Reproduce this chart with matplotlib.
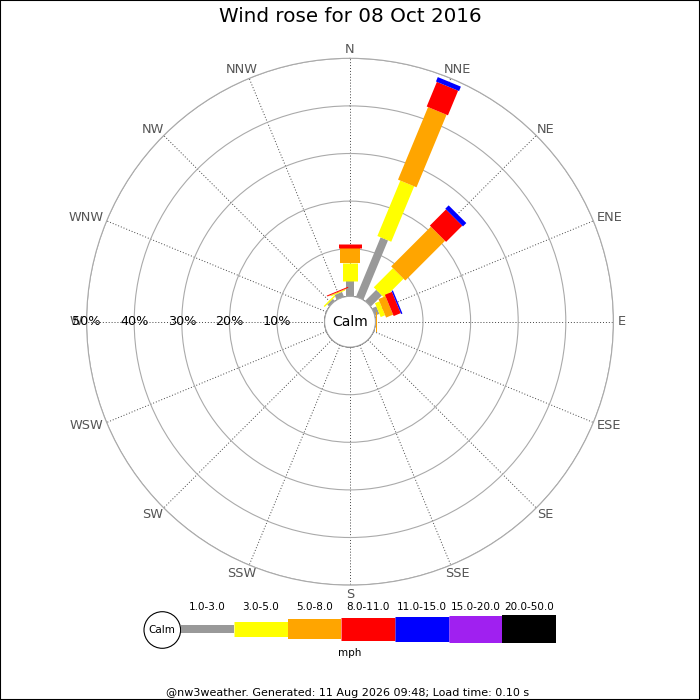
import matplotlib
matplotlib.use("Agg")
import matplotlib.pyplot as plt
import numpy as np
from matplotlib.patches import Circle, Rectangle

# wind directions, clockwise from north
directions = ["N", "NNE", "NE", "ENE", "E", "ESE", "SE", "SSE",
              "S", "SSW", "SW", "WSW", "W", "WNW", "NW", "NNW"]

# speed bins (mph) and their colours
speed_bins = ["1.0-3.0", "3.0-5.0", "5.0-8.0", "8.0-11.0",
              "11.0-15.0", "15.0-20.0", "20.0-50.0"]
bin_colors = ["#999999", "#ffff00", "#ffa500", "#ff0000",
              "#0000ff", "#a020f0", "#000000"]

# % of time per direction, one list per speed bin
freq_1_3 = [3.3, 13.5, 3.3, 1.0, 0.1, 0, 0, 0, 0, 0, 0, 0, 0, 0, 0.6, 1.1]
freq_3_5 = [3.8, 12.6, 5.7, 1.0, 0.1, 0, 0, 0, 0, 0, 0, 0, 0, 0, 0.3, 0.2]
freq_5_8 = [3.1, 16.5, 11.8, 1.6, 0.15, 0, 0, 0, 0, 0, 0, 0, 0, 0, 0, 0.1]
freq_8_11 = [0.7, 5.6, 4.8, 1.6, 0, 0, 0, 0, 0, 0, 0, 0, 0, 0, 0, 0.2]
freq_11_15 = [0, 1.0, 1.0, 0.3, 0, 0, 0, 0, 0, 0, 0, 0, 0, 0, 0, 0]
freq_15_20 = [0] * 16
freq_20_50 = [0] * 16

ring_pcts = [10, 20, 30, 40, 50]

title = "Wind rose for 08 Oct 2016"
footer = "@nw3weather. Generated: 11 Aug 2026 09:48; Load time: 0.10 s"

freqs = [freq_1_3, freq_3_5, freq_5_8, freq_8_11, freq_11_15, freq_15_20, freq_20_50]
bar_px = [8, 15, 20, 23, 25, 27, 28]  # bar thickness per bin, in pixels
px2pt = 0.72

fig = plt.figure(figsize=(7, 7), dpi=100)

# polar rose, centre at (350, 322) px, outer ring 263 px, calm hole 25 px
R = 263.4
hole = 25.4
ax = fig.add_axes([(350 - R) / 700, (700 - 321.7 - R) / 700, 2 * R / 700, 2 * R / 700],
                  projection="polar")
ax.set_theta_zero_location("N")
ax.set_theta_direction(-1)
ax.set_ylim(0, 50)
ax.set_rorigin(-50 * hole / (R - hole))
ax.set_rticks(ring_pcts)
ax.set_yticklabels([])
ax.set_thetagrids(np.arange(16) * 22.5, labels=[""] * 16)
ax.tick_params(length=0)
ax.xaxis.grid(True, color="#444444", linestyle=(0, (1, 2)), linewidth=0.7)
ax.yaxis.grid(True, color="#aaaaaa", linestyle="-", linewidth=0.8)
ax.spines["polar"].set_color("#aaaaaa")
ax.spines["polar"].set_linewidth(0.8)
ax.spines["inner"].set_visible(False)

renderer = fig.canvas.get_renderer()
r_lab = (268 - hole) / ((R - hole) / 50)
for i, name in enumerate(directions):
    theta = np.deg2rad(i * 22.5)
    r0 = 0
    for j, f in enumerate(freqs):
        v = f[i]
        if v > 0:
            ax.plot([theta, theta], [r0, r0 + v], color=bin_colors[j],
                    lw=bar_px[j] * px2pt, solid_capstyle="butt", zorder=3)
            r0 += v
    # direction label pushed outward so its box sits outside the ring
    t = ax.annotate(name, xy=(theta, r_lab), xytext=(0, 0), textcoords="offset pixels",
                    ha="center", va="center", fontsize=9.3, color="#555555",
                    annotation_clip=False)
    w = t.get_window_extent(renderer).width
    t.xyann = (w / 2 * np.sin(theta), 4.5 * np.cos(theta))

for p in ring_pcts:
    ax.text(np.deg2rad(270), p, f"{p}%", ha="center", va="center",
            fontsize=9.2, color="black", zorder=5)

ax.add_patch(Circle((0.5, 0.5), hole / (2 * R), transform=ax.transAxes,
                    facecolor="white", edgecolor="#aaaaaa", lw=0.8,
                    zorder=10, clip_on=False))
ax.text(0.5, 0.5, "Calm", transform=ax.transAxes, ha="center", va="center",
        fontsize=10, zorder=11)

# legend and footer in pixel coordinates
lg = fig.add_axes([0, 0, 1, 1], facecolor="none")
lg.set_xlim(0, 700)
lg.set_ylim(700, 0)
lg.axis("off")

lg.add_patch(Circle((162.3, 630), 18.3, facecolor="white", edgecolor="black", lw=0.8))
lg.text(162.3, 630, "Calm", ha="center", va="center", fontsize=7.5)
seg = (556 - 180.5) / len(speed_bins)
for j, lab in enumerate(speed_bins):
    x0 = 180.5 + j * seg
    lg.plot([x0, x0 + seg], [629, 629], color=bin_colors[j],
            lw=bar_px[j] * px2pt, solid_capstyle="butt")
    lg.text(x0 + seg / 2, 607, lab, ha="center", va="center", fontsize=7.5)
lg.text(350, 653, "mph", ha="center", va="center", fontsize=7.5)
lg.text(348, 692.5, footer, ha="center", va="center", fontsize=8)

fig.text(0.5, 1 - 17 / 700, title, ha="center", va="center", fontsize=14.3)
fig.patches.append(Rectangle((0, 0), 1, 1, transform=fig.transFigure, fill=False,
                             edgecolor="black", lw=1.5))

fig.savefig("out.png", dpi=100)
